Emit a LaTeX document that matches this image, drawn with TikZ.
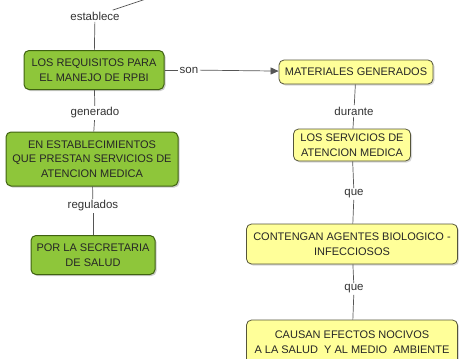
\documentclass[tikz,border=0pt]{standalone}
\usepackage{fontspec}
\setmainfont{Liberation Sans}
\usetikzlibrary{shadows,arrows.meta}

\definecolor{conceptgreen}{HTML}{8EC63A}
\definecolor{greenborder}{HTML}{3F6210}
\definecolor{conceptyellow}{HTML}{FFFF99}
\definecolor{yellowborder}{HTML}{55553A}
\definecolor{linkgray}{HTML}{555555}

\tikzset{
	greenbox/.style = {draw=greenborder, fill=conceptgreen, line width=1pt,
		rounded corners=5pt, align=center, text=black!85,
		font=\fontsize{11}{14.5}\selectfont, inner sep=2pt,
		drop shadow={shadow xshift=1.5pt, shadow yshift=-1.5pt, fill=black!40, opacity=.5}},
	yellowbox/.style = {draw=yellowborder, fill=conceptyellow, line width=.8pt,
		rounded corners=5pt, align=center, text=black!85,
		font=\fontsize{11}{14.5}\selectfont, inner sep=2pt,
		drop shadow={shadow xshift=1.5pt, shadow yshift=-1.5pt, fill=black!30, opacity=.5}},
	linklabel/.style = {font=\fontsize{11.5}{12}\selectfont, text=black!80, inner sep=1.5pt},
	link/.style = {draw=linkgray, line width=.7pt},
}

\begin{document}
\begin{tikzpicture}[x=1pt, y=-1pt]
	\useasboundingbox (0, 0) rectangle (459, 359);

	% left column
	\node (Requisitos) [greenbox, minimum width=140pt, minimum height=39pt]
		at (94, 70) {LOS REQUISITOS PARA\\EL MANEJO DE RPBI};
	\node (Establecimientos) [greenbox, minimum width=172pt, minimum height=54pt]
		at (92, 159) {EN ESTABLECIMIENTOS\\QUE PRESTAN SERVICIOS DE\\ATENCION MEDICA};
	\node (Secretaria) [greenbox, minimum width=124pt, minimum height=39pt]
		at (93, 255) {POR LA SECRETARIA\\DE SALUD};

	% right column
	\node (Materiales) [yellowbox, minimum width=154pt, minimum height=24pt]
		at (356, 72) {MATERIALES GENERADOS};
	\node (Servicios) [yellowbox, minimum width=117pt, minimum height=32pt]
		at (352, 145) {LOS SERVICIOS DE\\ATENCION MEDICA};
	\node (Agentes) [yellowbox, minimum width=211pt, minimum height=40pt]
		at (352, 244) {CONTENGAN AGENTES BIOLOGICO -\\INFECCIOSOS};
	\node (Efectos) [yellowbox, minimum width=211pt, minimum height=44pt]
		at (352, 342) {CAUSAN EFECTOS NOCIVOS\\A LA SALUD\ \ Y AL MEDIO\ \ AMBIENTE};

	% link labels
	\node (establece) [linklabel] at (95, 16) {establece};
	\node (son)       [linklabel] at (189, 70) {son};
	\node (generado)  [linklabel] at (95, 113) {generado};
	\node (regulados) [linklabel] at (93, 206) {regulados};
	\node (durante)   [linklabel] at (354, 111) {durante};
	\node (que1)      [linklabel] at (354, 194) {que};
	\node (que2)      [linklabel] at (354, 289) {que};
	\coordinate (top) at (146, -1);

	% connectors
	\draw [link] (top) -- (establece);
	\draw [link] (establece) -- (Requisitos);
	\draw [link] (Requisitos) -- (son);
	\draw [link, -{Triangle[length=8pt, width=7pt]}] (son) -- (Materiales);
	\draw [link] (Requisitos) -- (generado);
	\draw [link] (generado) -- (Establecimientos);
	\draw [link] (Establecimientos) -- (regulados);
	\draw [link] (regulados) -- (Secretaria);
	\draw [link] (Materiales) -- (durante);
	\draw [link] (durante) -- (Servicios);
	\draw [link] (Servicios) -- (que1);
	\draw [link] (que1) -- (Agentes);
	\draw [link] (Agentes) -- (que2);
	\draw [link] (que2) -- (Efectos);
\end{tikzpicture}
\end{document}
